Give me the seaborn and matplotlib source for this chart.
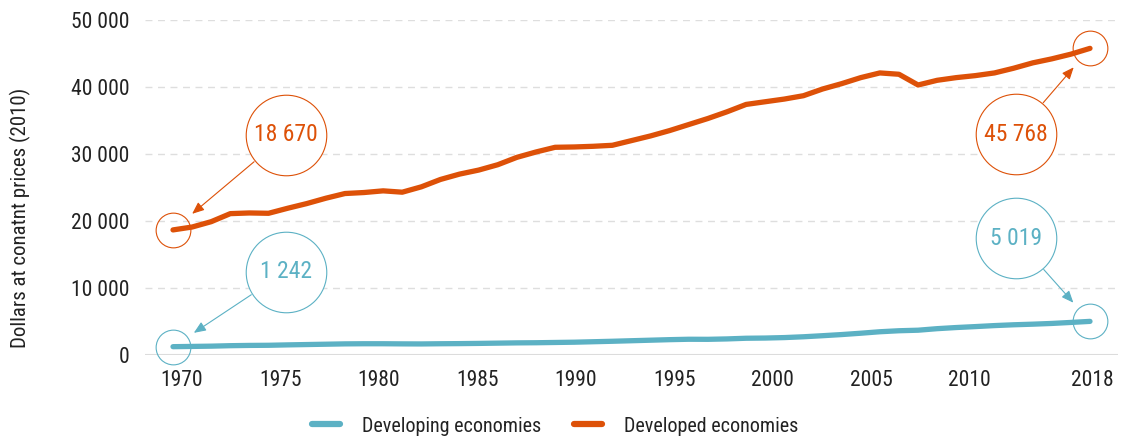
import numpy as np
import pandas as pd
import seaborn as sns
import matplotlib.pyplot as plt
from matplotlib.transforms import offset_copy
from matplotlib import font_manager

# data
years = list(range(1970, 2019))
developing = [1242, 1280, 1320, 1390, 1430, 1450, 1510, 1560, 1610, 1660,
              1680, 1680, 1660, 1650, 1680, 1700, 1730, 1770, 1810, 1830,
              1870, 1910, 1980, 2050, 2130, 2210, 2290, 2350, 2340, 2400,
              2500, 2530, 2600, 2720, 2880, 3050, 3250, 3470, 3620, 3700,
              3930, 4100, 4240, 4390, 4510, 4600, 4710, 4860, 5019]
developed = [18670, 19100, 19900, 21100, 21200, 21150, 21900, 22600, 23400, 24100,
             24250, 24500, 24300, 25100, 26200, 27000, 27600, 28400, 29500, 30300,
             31000, 31050, 31150, 31300, 32000, 32700, 33500, 34400, 35300, 36300,
             37400, 37800, 38200, 38700, 39700, 40500, 41400, 42100, 41900, 40300,
             41000, 41400, 41700, 42100, 42800, 43600, 44200, 44900, 45768]
series_names = ["Developing economies", "Developed economies"]
colors = ["#5CB1C4", "#DD5108"]
tick_years = [1970, 1975, 1980, 1985, 1990, 1995, 2000, 2005, 2010, 2018]

df = pd.DataFrame({
    "year": years * 2,
    "value": developing + developed,
    "series": [series_names[0]] * len(years) + [series_names[1]] * len(years),
})

sns.set_theme(style="white")

# look for a condensed sans face, the original uses a narrow sans
stretch = "normal"
family = "Roboto"
fonts = font_manager.fontManager.ttflist
names = sorted({f.name for f in fonts})
preferred = ["Roboto Condensed", "Liberation Sans Narrow", "Open Sans Condensed",
             "Noto Sans Condensed", "DejaVu Sans Condensed", "Noto Sans Display Condensed"]
narrow = [n for n in preferred if n in names]
narrow += [n for n in names if ("Condensed" in n or "Narrow" in n)
           and "Mono" not in n and "Serif" not in n]
if narrow:
    family = narrow[0]
elif any(f.name == "DejaVu Sans" and f.stretch == "condensed" for f in fonts):
    family = "DejaVu Sans"
    stretch = "condensed"
plt.rcParams['font.family'] = [family, 'DejaVu Sans']
plt.rcParams['font.stretch'] = stretch
fs = 13.5 if family == "Roboto" else 14.5
tfs = fs + 1

fig = plt.figure(figsize=(11.21, 4.42), dpi=100)
ax = fig.add_axes([145 / 1121, 87 / 442, 973 / 1121, 335 / 442])

sns.lineplot(data=df, x="year", y="value", hue="series", palette=colors,
             linewidth=3.8, ax=ax, legend=False, solid_capstyle="round", zorder=3)

ax.set_xlim(1968.534, 2019.466)
ax.set_ylim(0, 50000)

# grid
for v in range(10000, 50001, 10000):
    ax.axhline(v, color="#dedede", lw=1, ls=(0, (5, 4)), zorder=0)
ax.axhline(0, color="#dcdcdc", lw=1.5, zorder=1)
for s in ax.spines.values():
    s.set_visible(False)

ax.set_yticks(range(0, 50001, 10000))
ax.set_yticklabels([f"{v:,}".replace(",", " ") for v in range(0, 50001, 10000)])
# x labels sit slightly off the year positions in the original layout
tick_pos = [1970.47 + 1.031 * (y - 1970) for y in tick_years[:-1]] + [2018.1]
ax.set_xticks(tick_pos)
ax.set_xticklabels([str(y) for y in tick_years])
ax.tick_params(axis="y", length=0, pad=11, labelsize=tfs, labelcolor="#222222")
ax.tick_params(axis="x", length=0, pad=11, labelsize=tfs, labelcolor="#222222")
ax.set_xlabel("")
ax.set_ylabel("Dollars at conatnt prices (2010)", fontsize=fs + 0.5, color="#222222")
ax.yaxis.set_label_coords(-0.117, 0.41)

# callouts: (series index, point index, offset in pixels)
callouts = [(1, 0, (113, 95)), (0, 0, (113, 75)),
            (1, -1, (-74, -86)), (0, -1, (-74, 83))]
data = [developing, developed]
for si, pi, (dx, dy) in callouts:
    x, y = years[pi], data[si][pi]
    c = colors[si]
    ax.plot([x], [y], marker="o", ms=25, mfc="none", mec=c, mew=0.8,
            clip_on=False, zorder=4)
    tr = offset_copy(ax.transData, fig=fig, x=dx, y=dy, units="dots")
    ax.plot([x], [y], marker="o", ms=58, mfc="white", mec=c, mew=0.8,
            transform=tr, clip_on=False, zorder=5)
    ax.annotate(f"{y:,}".replace(",", " "), xy=(x, y), xytext=(dx, dy),
                textcoords="offset pixels", ha="center", va="center",
                fontsize=fs + 2.5, color=c, zorder=6)
    ax.annotate("", xy=(x, y), xytext=(dx, dy), textcoords="offset pixels",
                arrowprops=dict(arrowstyle="-|>,head_length=0.6,head_width=0.25",
                                color=c, lw=0.8, shrinkA=30, shrinkB=18),
                zorder=6)

handles = [plt.Line2D([], [], color=c, lw=4.5, solid_capstyle="round") for c in colors]
ax.legend(handles, series_names, loc="center", bbox_to_anchor=(555 / 1121, 16 / 442),
          bbox_transform=fig.transFigure, ncol=2, frameon=False, fontsize=fs,
          handlelength=1.4, handletextpad=1.1, columnspacing=1.6, labelcolor="#222222")

fig.savefig("out.png", dpi=100)
